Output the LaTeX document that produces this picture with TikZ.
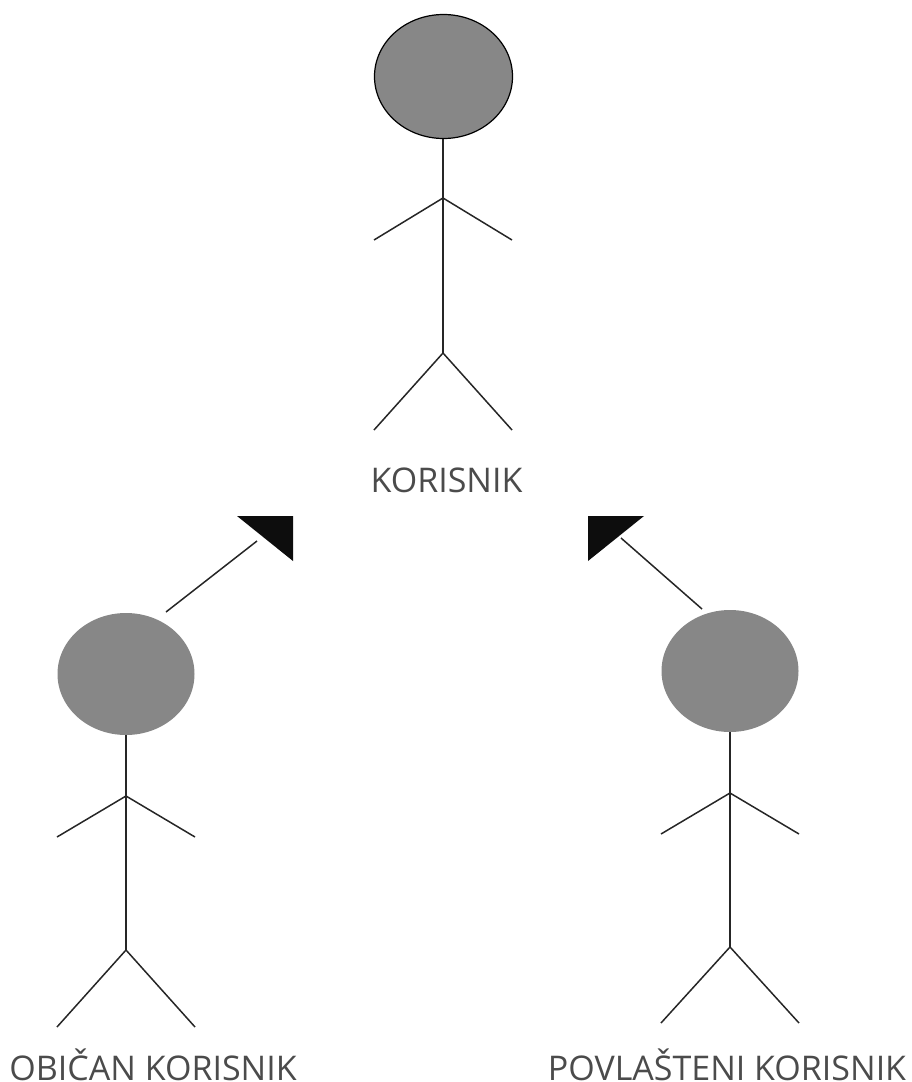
\documentclass[tikz,border=0pt]{standalone}
\usepackage{fontspec}
\setmainfont{Open Sans}
\usepackage{xcolor}
\usepackage{tikz}
\usetikzlibrary{shapes,positioning,calc}

\definecolor{headgray}{RGB}{135,135,135}
\definecolor{textgray}{RGB}{75,75,75}
\tikzset{
  headfill/.style={ellipse, fill=headgray, inner sep=0pt, minimum width=137pt, minimum height=122pt},
  limb/.style={line width=1.5pt, black!85},
  actorlabel/.style={text=textgray, font=\fontsize{34}{40}\selectfont, inner sep=0pt, anchor=base},
  tiptri/.style={fill=black!95}
}

\begin{document}
\begin{tikzpicture}[x=1pt,y=-1pt]
  \useasboundingbox (0,0) rectangle (911,1082);

  % Top actor
  \node[headfill, draw=black, line width=1.2pt, minimum width=138pt, minimum height=124pt] (headTop) at (443.5,76.5) {};
  \coordinate (armTop) at (443,198);
  \coordinate (hipTop) at (443,353);
  \draw[limb] (headTop.south -| armTop) -- (armTop) -- (hipTop);
  \draw[limb] (374,240) -- (armTop) -- (512,240);
  \draw[limb] (374,430) -- (hipTop) -- (512,430);
  \node[actorlabel] (labelTop) at (446.5,492) {KORISNIK};

  % Left actor
  \node[headfill] (headLeft) at (126,674) {};
  \coordinate (armLeft) at (126,796);
  \coordinate (hipLeft) at (126,950);
  \draw[limb] (headLeft.south) -- (armLeft) -- (hipLeft);
  \draw[limb] (57,837) -- (armLeft) -- (195,837);
  \draw[limb] (57,1027) -- (hipLeft) -- (195,1027);
  \node[actorlabel] (labelLeft) at (153,1080) {OBIČAN KORISNIK};

  % Right actor
  \node[headfill] (headRight) at (730,671) {};
  \coordinate (armRight) at (730,793);
  \coordinate (hipRight) at (730,947);
  \draw[limb] (headRight.south) -- (armRight) -- (hipRight);
  \draw[limb] (661,834) -- (armRight) -- (799,834);
  \draw[limb] (661,1023) -- (hipRight) -- (799,1023);
  \node[actorlabel] (labelRight) at (727,1080) {POVLAŠTENI KORISNIK};

  % Left arrow
  \coordinate (startLeft) at (166,612);
  \coordinate (endLeft) at (257,541);
  \draw[limb] (startLeft) -- (endLeft);
  \fill[tiptri] (237,516) -- (293,516) -- (293,561) -- cycle;

  % Right arrow
  \coordinate (startRight) at (702,609);
  \coordinate (endRight) at (621,538);
  \draw[limb] (startRight) -- (endRight);
  \fill[tiptri] (588,516) -- (644,516) -- (588,561) -- cycle;
\end{tikzpicture}
\end{document}
